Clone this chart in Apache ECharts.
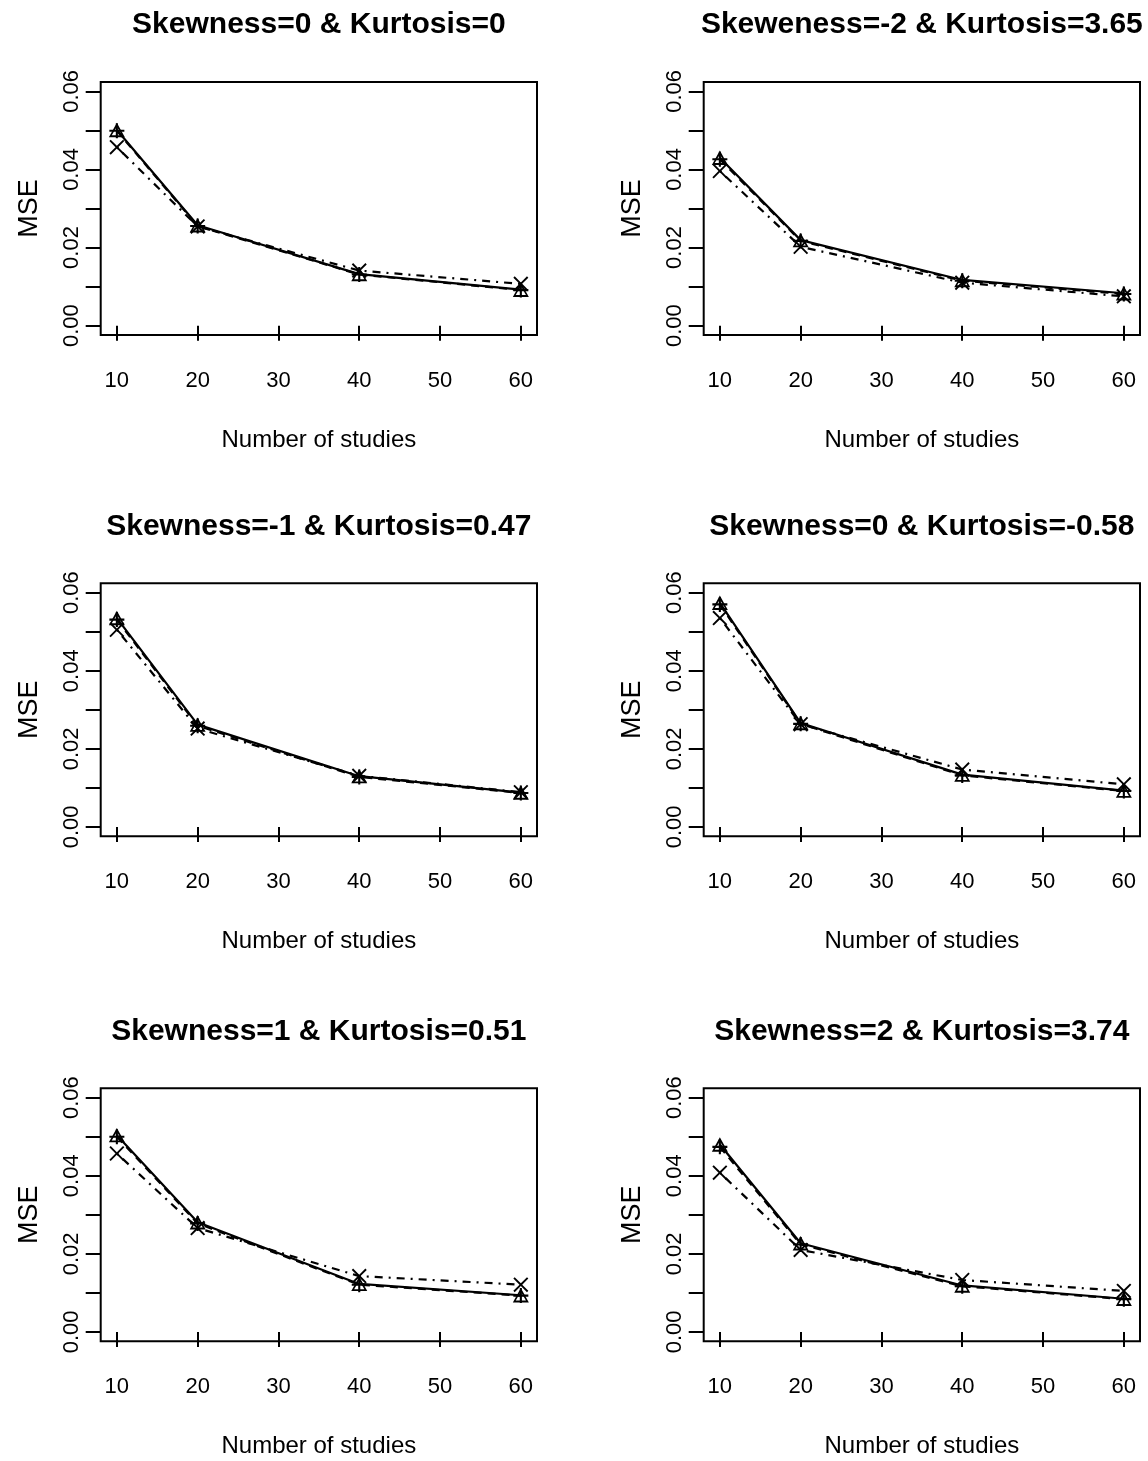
<!DOCTYPE html>
<html>
<head>
<meta charset="utf-8">
<script src="https://cdn.jsdelivr.net/npm/echarts@6/dist/echarts.min.js"></script>
<style>
  html, body { margin: 0; padding: 0; background: #fff; }
  #chart { width: 1148px; height: 1461px; }
</style>
</head>
<body>
<div id="chart"></div>
<script>
// number of studies on the x axis
const studies = [10, 20, 40, 60]
const xTicks = [10, 20, 30, 40, 50, 60]
const yTicks = [0, 0.01, 0.02, 0.03, 0.04, 0.05, 0.06]
const yLabels = [0, 0.02, 0.04, 0.06]

const titles = [
  'Skewness=0 & Kurtosis=0',
  'Skeweness=-2 & Kurtosis=3.65',
  'Skewness=-1 & Kurtosis=0.47',
  'Skewness=0 & Kurtosis=-0.58',
  'Skewness=1 & Kurtosis=0.51',
  'Skewness=2 & Kurtosis=3.74'
]

// MSE per panel, one row per panel (solid / triangles)
const mseTriangle = [
  [0.0501, 0.0257, 0.0132, 0.0092],
  [0.0430, 0.0219, 0.0117, 0.0083],
  [0.0535, 0.0262, 0.0130, 0.0088],
  [0.0574, 0.0266, 0.0134, 0.0093],
  [0.0504, 0.0281, 0.0123, 0.0094],
  [0.0480, 0.0227, 0.0119, 0.0085]
]
// dashed / plus
const msePlus = [
  [0.0499, 0.0255, 0.0131, 0.0091],
  [0.0426, 0.0217, 0.0115, 0.0081],
  [0.0531, 0.0259, 0.0128, 0.0087],
  [0.0570, 0.0264, 0.0132, 0.0092],
  [0.0500, 0.0278, 0.0121, 0.0093],
  [0.0474, 0.0224, 0.0117, 0.0084]
]
// dot-dash / cross
const mseCross = [
  [0.0457, 0.0254, 0.0141, 0.0107],
  [0.0396, 0.0202, 0.0110, 0.0075],
  [0.0505, 0.0252, 0.0131, 0.0089],
  [0.0535, 0.0263, 0.0147, 0.0109],
  [0.0457, 0.0266, 0.0143, 0.0121],
  [0.0408, 0.0210, 0.0133, 0.0105]
]

const FONT = '"Liberation Sans", Arial, sans-serif'
const colLeft = [100.7, 703.7]
const rowTop = [82, 583.3, 1088.3]
const boxW = 436.3
const boxH = 253

// R-style open symbols drawn as filled outlines
const symTriangle = 'path://M5,0L10,9L0,9ZM5,2.4L1.8,7.8L8.2,7.8Z'
const symPlus = 'path://M4.3,0H5.7V4.3H10V5.7H5.7V10H4.3V5.7H0V4.3H4.3Z'
const symCross = 'path://M0,0.9L0.9,0L5,4.1L9.1,0L10,0.9L5.9,5L10,9.1L9.1,10L5,5.9L0.9,10L0,9.1L4.1,5Z'

const grid = [], xAxis = [], yAxis = [], title = [], series = []

titles.forEach((t, i) => {
  const r = Math.floor(i / 2), c = i % 2
  grid.push({
    left: colLeft[c], top: rowTop[r], width: boxW, height: boxH,
    show: true, borderColor: '#000', borderWidth: 2, backgroundColor: 'transparent'
  })
  title.push({
    text: t, left: colLeft[c] + boxW / 2, top: rowTop[r] - 72, textAlign: 'center', padding: 0,
    textStyle: { fontFamily: FONT, fontSize: 30, fontWeight: 'bold', color: '#000' }
  })
  xAxis.push({
    type: 'value', gridIndex: i, min: 8, max: 62,
    name: 'Number of studies', nameLocation: 'middle', nameGap: 93,
    nameTextStyle: { fontFamily: FONT, fontSize: 24, color: '#000' },
    axisLine: { show: false },
    splitLine: { show: false },
    axisTick: { show: true, inside: false, length: 15, customValues: xTicks, lineStyle: { color: '#000', width: 2 } },
    axisLabel: { customValues: xTicks, margin: 35, fontFamily: FONT, fontSize: 22, color: '#000' }
  })
  yAxis.push({
    type: 'value', gridIndex: i, min: -0.0024, max: 0.0624,
    name: 'MSE', nameLocation: 'middle', nameGap: 58,
    nameTextStyle: { fontFamily: FONT, fontSize: 27, color: '#000' },
    axisLine: { show: false },
    splitLine: { show: false },
    axisTick: { show: true, inside: false, length: 15, customValues: yTicks, lineStyle: { color: '#000', width: 2 } },
    axisLabel: {
      customValues: yLabels, rotate: 90, margin: 18, fontFamily: FONT, fontSize: 22, color: '#000',
      formatter: v => v.toFixed(2)
    }
  })
  const pts = arr => studies.map((s, j) => [s, arr[i][j]])
  series.push({
    type: 'line', xAxisIndex: i, yAxisIndex: i, data: pts(mseTriangle),
    symbol: symTriangle, symbolSize: 16, symbolKeepAspect: true,
    lineStyle: { color: '#000', width: 2.2, type: 'solid' },
    itemStyle: { color: '#000' }
  })
  series.push({
    type: 'line', xAxisIndex: i, yAxisIndex: i, data: pts(msePlus),
    symbol: symPlus, symbolSize: 15, symbolKeepAspect: true,
    lineStyle: { color: '#000', width: 2.2, type: [8, 6] },
    itemStyle: { color: '#000' }
  })
  series.push({
    type: 'line', xAxisIndex: i, yAxisIndex: i, data: pts(mseCross),
    symbol: symCross, symbolSize: 15, symbolKeepAspect: true,
    lineStyle: { color: '#000', width: 2.2, type: [2, 6, 8, 6] },
    itemStyle: { color: '#000' }
  })
})

const chart = echarts.init(document.getElementById('chart'), null, { renderer: 'canvas' })
chart.setOption({
  animation: false,
  backgroundColor: '#fff',
  title, grid, xAxis, yAxis, series
})
</script>
</body>
</html>
